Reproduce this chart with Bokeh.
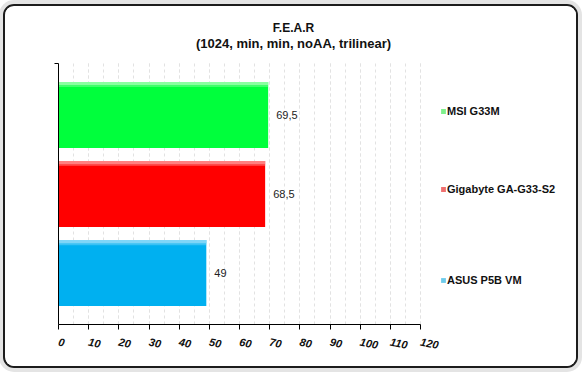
from bokeh.plotting import figure
from bokeh.models import (Range1d, SingleIntervalTicker, FixedTicker, LabelSet, Label,
                          ColumnDataSource, Legend, LegendItem)
from bokeh.core.properties import value
from bokeh.embed import file_html
from bokeh.resources import INLINE

boards = ["MSI G33M", "Gigabyte GA-G33-S2", "ASUS P5B VM"]
fps = [69.5, 68.5, 49]
value_labels = ["69,5", "68,5", "49"]
bar_colors = ["#00ff3c", "#ff0000", "#00b0f0"]
top_colors = ["#8affa0", "#ff8080", "#7fd6f8"]
legend_colors = ["#7ff08c", "#f07070", "#6ecbeb"]
title_text = "F.E.A.R"
subtitle_text = "(1024, min, min, noAA, trilinear)"

FONT = "Liberation Sans"
W, H = 575, 364
FL, FB = 53, 46                    # frame left / bottom border (px)
PX_X = 362 / 120                   # px per fps unit
PX_Y = 261 / 3.3                   # px per category slot
x_end = (W - FL) / PX_X
y_start = -0.15
y_end = y_start + (H - FB) / PX_Y

n = len(boards)
ypos = [n - 0.5 - i for i in range(n)]

p = figure(width=W, height=H, output_backend="svg", toolbar_location=None,
           x_range=Range1d(0, x_end), y_range=Range1d(y_start, y_end),
           min_border_left=FL, min_border_right=0, min_border_top=0, min_border_bottom=FB)
p.styles = {"border": "2px solid #1c1c1c", "border-radius": "11px", "margin": "4px 0 0 3px",
            "box-shadow": "0 0 0 4px #e4e4e4", "overflow": "hidden"}
p.background_fill_color = "white"
p.border_fill_color = "white"
p.outline_line_color = None

src = ColumnDataSource(dict(y=ypos, board=boards, fps=fps, lab=value_labels,
                            color=bar_colors, top=top_colors, leg=legend_colors))
BH = 0.835
p.hbar(y="y", right="fps", left=0, height=BH, source=src, fill_color="color", line_color=None)
src_top1 = ColumnDataSource(dict(y=[v + BH / 2 - 0.02 for v in ypos], fps=fps, top=top_colors))
src_top2 = ColumnDataSource(dict(y=[v + BH / 2 - 0.05 for v in ypos], fps=fps, top=top_colors))
p.hbar(y="y", right="fps", left=0, height=0.04, source=src_top1, fill_color="top", line_color=None)
p.hbar(y="y", right="fps", left=0, height=0.03, source=src_top2, fill_color="top",
       fill_alpha=0.45, line_color=None)

p.add_layout(LabelSet(x="fps", y="y", text="lab", source=src, x_offset=8,
                      text_baseline="middle", text_font=value(FONT), text_font_size="11px",
                      text_color="#222222"))

# x axis
p.xaxis.bounds = (0, 120)
p.xaxis.ticker = SingleIntervalTicker(interval=10, num_minor_ticks=2)
p.xaxis.axis_line_color = "black"
p.xaxis.major_tick_line_color = "black"
p.xaxis.major_tick_in = 0
p.xaxis.major_tick_out = 5
p.xaxis.minor_tick_line_color = None
p.xaxis.major_label_orientation = -0.2
p.xaxis.major_label_text_font = FONT
p.xaxis.major_label_text_font_style = "bold italic"
p.xaxis.major_label_text_font_size = "11px"
p.xaxis.major_label_text_color = "#111111"
p.xaxis.major_label_standoff = 12

# y axis: only the line and a small tick at the top
p.yaxis.bounds = (y_start, 3.15)
p.yaxis.ticker = FixedTicker(ticks=[], minor_ticks=[3.15])
p.yaxis.axis_line_color = "black"
p.yaxis.major_tick_line_color = None
p.yaxis.minor_tick_line_color = "black"
p.yaxis.minor_tick_in = 0
p.yaxis.minor_tick_out = 4

p.xgrid.grid_line_color = "#e2e2e2"
p.xgrid.grid_line_dash = "3 3"
p.xgrid.minor_grid_line_color = "#e2e2e2"
p.xgrid.minor_grid_line_dash = "3 3"
p.xgrid.cross_bounds = (y_start, 3.15)
p.ygrid.grid_line_color = None

# titles
tx = (288 - FL) / PX_X
p.add_layout(Label(x=tx, y=y_end - 21 / PX_Y, text=title_text, text_align="center",
                   text_baseline="middle", text_font=FONT, text_font_style="bold",
                   text_font_size="12px", text_color="#111111"))
p.add_layout(Label(x=tx, y=y_end - 37 / PX_Y, text=subtitle_text, text_align="center",
                   text_baseline="middle", text_font=FONT, text_font_style="bold",
                   text_font_size="13px", text_color="#111111"))

# legends: zero-height bars carry the lighter legend swatch colours
leg_r = p.hbar(y="y", right="fps", left=0, height=0, source=src, fill_color="leg", line_color=None)
legend_y = [207, 129, 38]
for i, (name, ly) in enumerate(zip(boards, legend_y)):
    lg = Legend(items=[LegendItem(label=name, renderers=[leg_r], index=i)], location=(382, ly),
                glyph_width=6, glyph_height=6, label_height=12, label_standoff=1,
                padding=0, margin=0, border_line_color=None, background_fill_alpha=0,
                label_text_font=FONT, label_text_font_style="bold", label_text_font_size="11px",
                label_text_color="#111111")
    p.add_layout(lg, "center")

open("out.html", "w").write(file_html(p, INLINE))
